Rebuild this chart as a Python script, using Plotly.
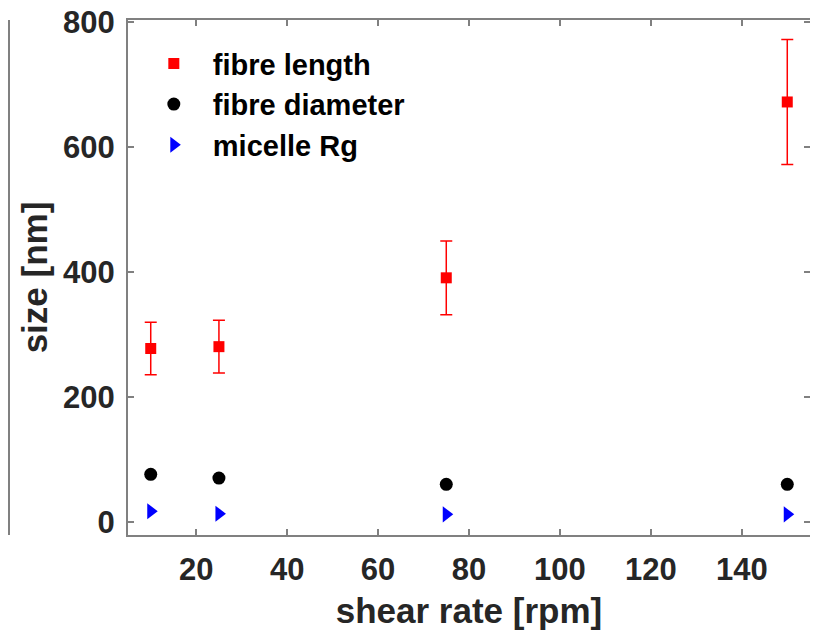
import plotly.graph_objects as go

shear_rate = [10, 25, 75, 150]
fibre_length = [278, 281, 391, 672]
fibre_length_err = [42, 42, 59, 100]
fibre_diameter = [77, 71, 61, 61]
micelle_rg = [18, 14, 13, 13]

x_ticks = [20, 40, 60, 80, 100, 120, 140]
y_ticks = [0, 200, 400, 600, 800]

FONT = "Liberation Sans, Arial, sans-serif"
TXT = "#262626"
AX = "#808080"

fig = go.Figure()
fig.add_trace(go.Scatter(
    x=shear_rate, y=fibre_length, mode="markers", name="<b>fibre length</b>",
    marker=dict(symbol="square", size=11, color="red"),
    error_y=dict(type="data", array=fibre_length_err, color="red", thickness=1.5, width=6),
))
fig.add_trace(go.Scatter(
    x=shear_rate, y=fibre_diameter, mode="markers", name="<b>fibre diameter</b>",
    marker=dict(symbol="circle", size=13, color="black"),
))
fig.add_trace(go.Scatter(
    x=shear_rate, y=micelle_rg, mode="markers", name="<b>micelle Rg</b>",
    marker=dict(symbol="triangle-right", size=14, color="blue"),
))

axis_common = dict(
    showline=True, linecolor=AX, linewidth=2, mirror="ticks",
    ticks="inside", ticklen=6, tickwidth=2, tickcolor=AX,
    showgrid=False, zeroline=False, automargin=False,
    ticklabeloverflow="allow",
    tickfont=dict(family=FONT, size=31, color=TXT),
)

fig.update_xaxes(
    range=[5, 155], tickvals=x_ticks, ticktext=[f"<b>{v}</b>" for v in x_ticks],
    title=dict(text="<b>shear rate [rpm]</b>", font=dict(family=FONT, size=35, color=TXT), standoff=12),
    ticklabelstandoff=6,
    **axis_common,
)
fig.update_yaxes(
    range=[-20, 803], tickvals=y_ticks, ticktext=[f"<b>{v}</b>" for v in y_ticks],
    title=dict(text="<b>size [nm]</b>", font=dict(family=FONT, size=35, color=TXT), standoff=5),
    ticklabelstandoff=5,
    **axis_common,
)

# edge of the neighbouring panel's frame visible at the far left
shapes = [dict(type="line", xref="paper", yref="paper",
               x0=-120 / 682 + 1 / 682, x1=-120 / 682 + 1 / 682, y0=0, y1=1.0,
               line=dict(color=AX, width=2))]

fig.update_layout(
    width=810, height=624,
    margin=dict(l=120, r=8, t=12, b=97, autoexpand=False),
    paper_bgcolor="white", plot_bgcolor="white",
    showlegend=True,
    legend=dict(
        x=0.01, y=0.965, xanchor="left", yanchor="top",
        font=dict(family=FONT, size=29, color="black"),
        bgcolor="rgba(0,0,0,0)", itemwidth=68, tracegroupgap=0,
    ),
    shapes=shapes,
)

fig.write_html("out.html")
